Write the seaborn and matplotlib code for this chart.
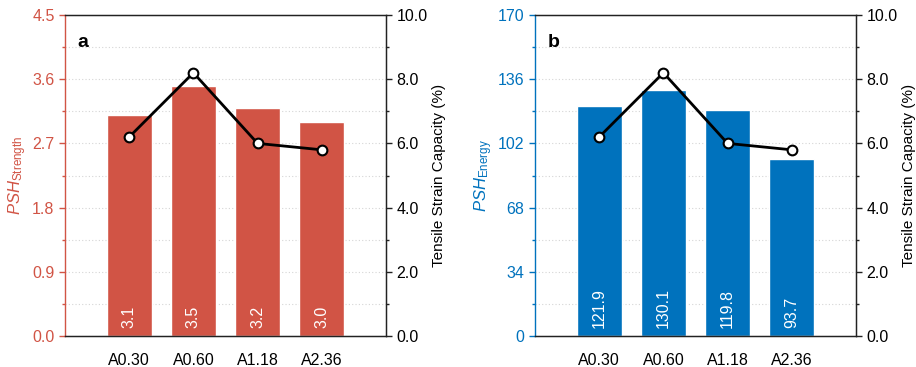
import matplotlib
matplotlib.use("Agg")
import matplotlib.pyplot as plt
import seaborn as sns
import numpy as np
import pandas as pd
from matplotlib.ticker import MultipleLocator, FormatStrFormatter

categories = ["A0.30", "A0.60", "A1.18", "A2.36"]
psh_strength = [3.1, 3.5, 3.2, 3.0]
psh_energy = [121.9, 130.1, 119.8, 93.7]
strain_capacity = [6.2, 8.2, 6.0, 5.8]

sns.set_style("white")
plt.rcParams['font.family'] = ['Liberation Sans', 'DejaVu Sans']
plt.rcParams['mathtext.fontset'] = 'custom'
plt.rcParams['mathtext.it'] = 'Liberation Sans:italic'
plt.rcParams['mathtext.rm'] = 'Liberation Sans'
plt.rcParams['mathtext.default'] = 'it'
plt.rcParams['text.color'] = 'black'

RED = "#D15445"
BLUE = "#0072BD"
FS = 11.5

fig = plt.figure(figsize=(9.16, 3.67), dpi=100)
axA = fig.add_axes([65/916, 1-336/367, 321/916, 321/367])
axB = fig.add_axes([535/916, 1-336/367, 321/916, 321/367])

panels = [
    (axA, psh_strength, RED, 4.5, 0.9, "%.1f", r"$PSH_{\mathrm{Strength}}$", "a"),
    (axB, psh_energy, BLUE, 170, 34, "%d", r"$PSH_{\mathrm{Energy}}$", "b"),
]

for ax, vals, col, ymax, step, fmt, ylab, letter in panels:
    df = pd.DataFrame({"cat": categories, "val": vals})
    sns.barplot(data=df, x="cat", y="val", color=col, saturation=1, width=0.7,
                ax=ax, zorder=2)
    ax.set_xlim(-1, 4)
    ax.set_ylim(0, ymax)
    ax.yaxis.set_major_locator(MultipleLocator(step))
    ax.yaxis.set_minor_locator(MultipleLocator(step / 2))
    ax.yaxis.set_major_formatter(FormatStrFormatter(fmt))
    ax.grid(True, axis="y", which="both", linestyle=(0, (1, 2)), color="#d5d5d5", linewidth=0.8, zorder=0)
    ax.set_axisbelow(True)
    ax.tick_params(axis="y", which="both", direction="out", colors=col, labelsize=FS, length=4, width=1, left=True)
    ax.tick_params(axis="y", which="minor", length=2.5)
    ax.tick_params(axis="x", which="both", bottom=False, labelsize=FS, pad=9, labelcolor="black")
    ax.set_xlabel("")
    ax.set_ylabel(ylab, color=col, fontsize=FS + 0.5, labelpad=2)
    for s in ["top", "bottom", "right"]:
        ax.spines[s].set_color("#222222")
        ax.spines[s].set_linewidth(1.0)
    ax.spines["left"].set_color(col)
    ax.spines["left"].set_linewidth(1.0)
    for i, v in enumerate(vals):
        ax.text(i, ymax * 0.025, "%.1f" % v, rotation=90, color="white",
                fontsize=FS, ha="center", va="bottom")
    ax.text(0.04, 0.94, letter, transform=ax.transAxes, fontsize=14,
            fontweight="bold", va="top", ha="left", color="black")

    ax2 = ax.twinx()
    sns.lineplot(x=categories, y=strain_capacity, ax=ax2, color="black", linewidth=2,
                 marker="o", markersize=7, markerfacecolor="white",
                 markeredgecolor="black", markeredgewidth=1.5, sort=False, zorder=5)
    ax2.set_ylim(0, 10)
    ax2.yaxis.set_major_locator(MultipleLocator(2))
    ax2.yaxis.set_minor_locator(MultipleLocator(1))
    ax2.yaxis.set_major_formatter(FormatStrFormatter("%.1f"))
    ax2.tick_params(axis="y", which="both", direction="out", colors="#222222", labelsize=FS, length=4, width=1, right=True, labelcolor="black")
    ax2.tick_params(axis="y", which="minor", length=2.5)
    ax2.set_ylabel("Tensile Strain Capacity (%)", fontsize=FS - 0.5, labelpad=3, color="black")
    ax2.spines["left"].set_visible(False)
    for s in ["top", "bottom", "right"]:
        ax2.spines[s].set_color("#222222")

fig.savefig("out.png", dpi=100)
